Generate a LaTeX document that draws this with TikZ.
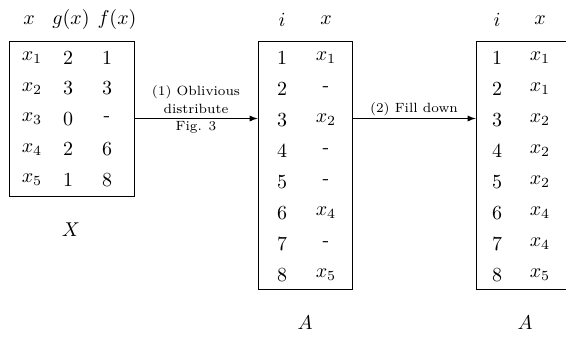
\documentclass[tikz,border=0pt]{standalone}
\usetikzlibrary{positioning, arrows}
\begin{document}
\begin{tikzpicture}[
  x=0.5pt, y=-0.5pt,
  tablebox/.style={draw, minimum width=47pt, minimum height=124pt, inner sep=0pt},
  cell/.style={inner sep=0pt},
  steplabel/.style={font=\fontsize{6.7}{8.75}\selectfont, align=center, inner sep=1pt},
  ->, >=latex
]
\useasboundingbox (0,0) rectangle (566,337);
\clip (0,0) rectangle (566,337);

% Input table X
\node[tablebox, minimum width=62.5pt, minimum height=77.5pt] (Xbox) at (72,118.5) {};
\node[cell] (Xhx) at (29,20) {$x$};
\node[cell] (Xhg) at (71,20) {$g(x)$};
\node[cell] (Xhf) at (117,20) {$f(x)$};
\foreach \r/\g/\f in {1/2/1, 2/3/3, 3/0/-, 4/2/6, 5/1/8} {
  \node[cell] (Xx\r) at (32,58+\r*30.5-30.5) {$x_{\r}$};
  \node[cell] (Xg\r) at (68,58+\r*30.5-30.5) {$\g$};
  \node[cell] (Xf\r) at (107,58+\r*30.5-30.5) {\f};
}
\node (Xname) at (71,230) {$X$};

% Distributed array A
\node[tablebox] (Abox) at (305,165) {};
\node[cell] (Ahi) at (282,20) {$i$};
\node[cell] (Ahx) at (326,20) {$x$};
\foreach \i/\v in {1/$x_1$, 2/-, 3/$x_2$, 4/-, 5/-, 6/$x_4$, 7/-, 8/$x_5$} {
  \node[cell] (Ai\i) at (282,58+\i*31-31) {$\i$};
  \node[cell] (Av\i) at (326,58+\i*31-31) {\v};
}
\node (Aname) at (305,323) {$A$};

% Filled array A
\node[tablebox] (Bbox) at (523,165) {};
\node[cell] (Bhi) at (497,20) {$i$};
\node[cell] (Bhx) at (540,20) {$x$};
\foreach \i/\v in {1/1, 2/1, 3/2, 4/2, 5/2, 6/4, 7/4, 8/5} {
  \node[cell] (Bi\i) at (497,58+\i*31-31) {$\i$};
  \node[cell] (Bv\i) at (540,58+\i*31-31) {$x_{\v}$};
}
\node (Bname) at (525,323) {$A$};

% Steps
\draw (Xbox.east) -- (Xbox.east -| Abox.west);
\node[steplabel] (step1) at (196,109.5) {(1) Oblivious\\distribute\\Fig. 3};
\draw (Abox.east |- Xbox.east) -- node[steplabel, above] (step2) {(2) Fill down} (Bbox.west |- Xbox.east);

\end{tikzpicture}
\end{document}
